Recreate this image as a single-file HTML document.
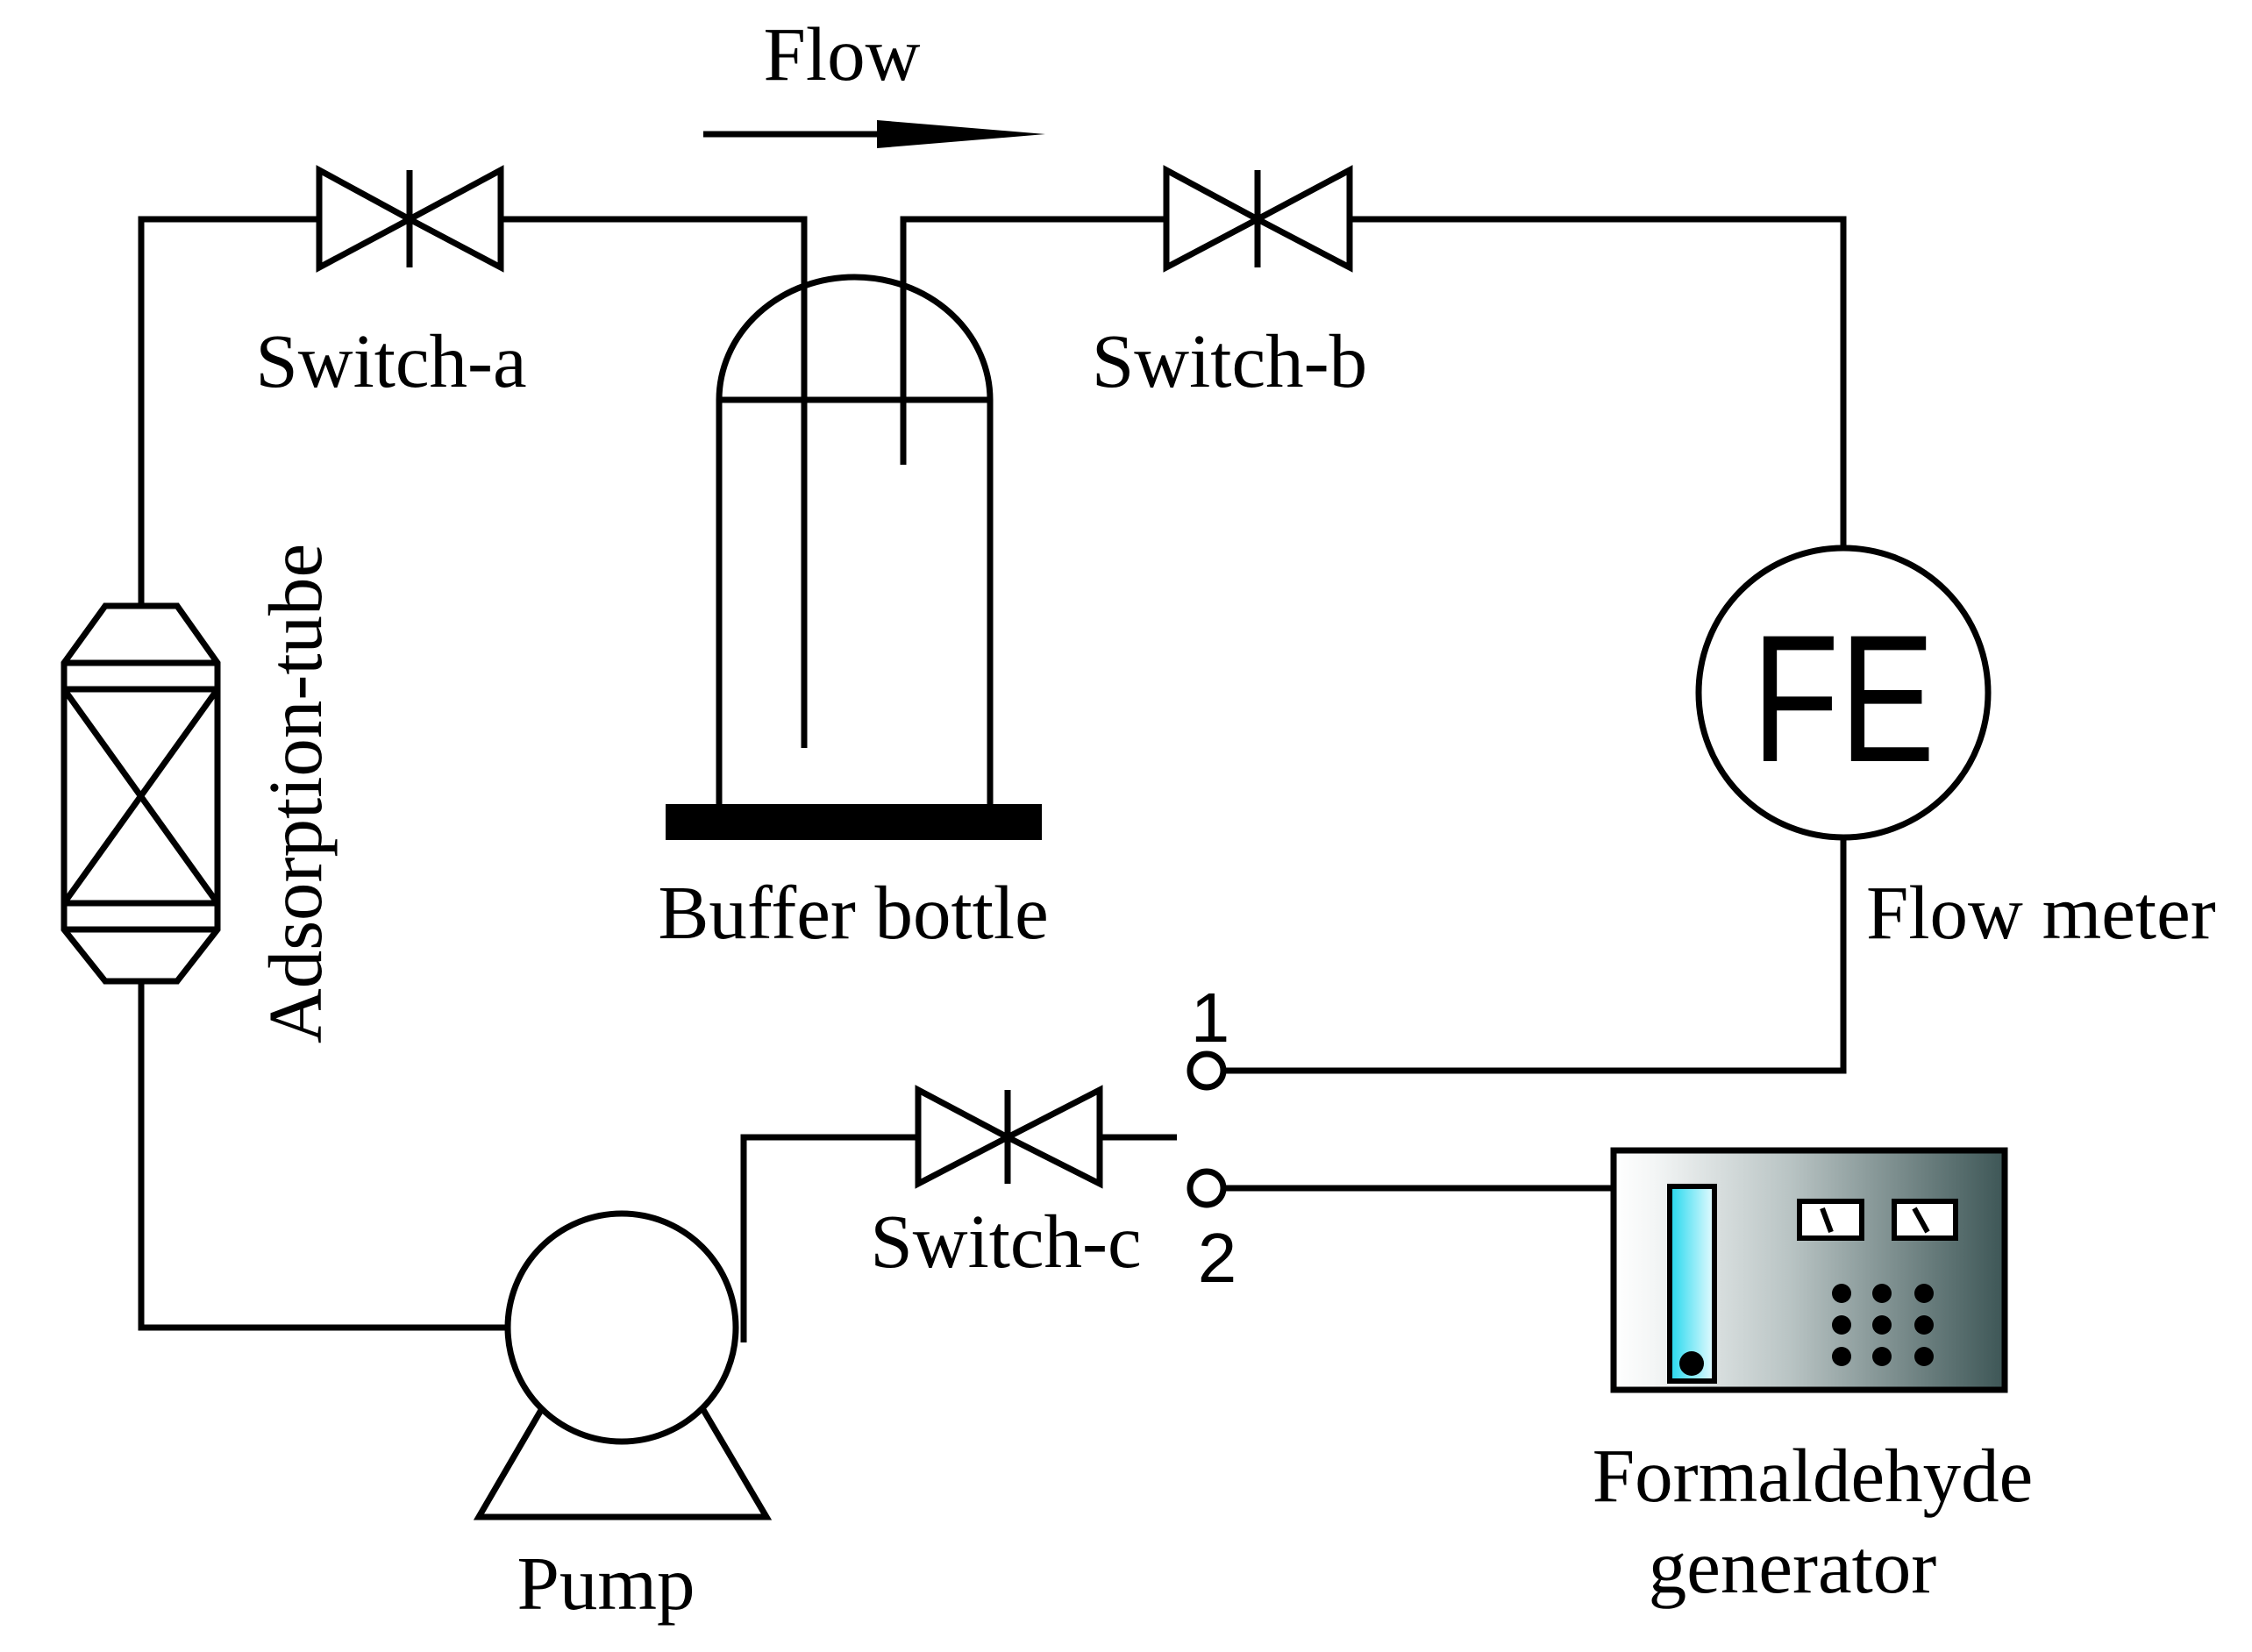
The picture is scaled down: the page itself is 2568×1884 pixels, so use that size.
<!DOCTYPE html>
<html><head><meta charset="utf-8"><style>html,body{margin:0;padding:0;background:#fff}svg{display:block}</style></head>
<body>
<svg width="2568" height="1884" viewBox="0 0 2568 1884" xmlns="http://www.w3.org/2000/svg">
<defs>
<linearGradient id="gen" x1="0" x2="1" y1="0" y2="0">
<stop offset="0" stop-color="#ffffff"/><stop offset="0.1" stop-color="#f4f6f6"/><stop offset="0.45" stop-color="#b9c4c4"/><stop offset="1" stop-color="#3d5656"/>
</linearGradient>
<linearGradient id="tube" x1="0" x2="1" y1="0" y2="0">
<stop offset="0" stop-color="#22d8ee"/><stop offset="1" stop-color="#e8fbff"/>
</linearGradient>
</defs>
<g stroke="#000" stroke-width="7" fill="none" stroke-linejoin="miter">
<polyline points="161,691 161,250 364,250"/>
<polyline points="571,250 917,250 917,853"/>
<polygon points="364,194 364,305 467,250"/>
<polygon points="571,194 571,305 467,250"/>
<line x1="467" y1="194" x2="467" y2="305"/>
<polyline points="1030,530 1030,250 1330,250"/>
<polygon points="1330,194 1330,305 1434,250"/>
<polygon points="1539,194 1539,305 1434,250"/>
<line x1="1434" y1="194" x2="1434" y2="305"/>
<polyline points="1539,250 2102,250 2102,625"/>
<path d="M820,456 A154.5 140 0 0 1 1129,456"/>
<line x1="820" y1="456" x2="1129" y2="456"/>
<line x1="820" y1="456" x2="820" y2="917"/>
<line x1="1129" y1="456" x2="1129" y2="917"/>
<circle cx="2102" cy="790" r="165"/>
<polyline points="2102,955 2102,1221 1396,1221"/>
<circle cx="1376" cy="1221" r="19"/>
<circle cx="1376" cy="1355" r="19"/>
<line x1="1396" y1="1355" x2="1840" y2="1355"/>
<polyline points="1047,1297 848,1297 848,1531"/>
<polygon points="1047,1243 1047,1350 1149,1297"/>
<polygon points="1254,1243 1254,1350 1149,1297"/>
<line x1="1149" y1="1243" x2="1149" y2="1350"/>
<line x1="1254" y1="1297" x2="1342" y2="1297"/>
<polygon points="546,1730 874,1730 709,1450"/>
<polyline points="161,1119 161,1514 578,1514"/>
<polygon points="120,691 202,691 248,756 248,1060 202,1119 120,1119 73,1060 73,756"/>
<line x1="73" y1="756" x2="248" y2="756"/>
<line x1="73" y1="786" x2="248" y2="786"/>
<line x1="73" y1="1030" x2="248" y2="1030"/>
<line x1="73" y1="1060" x2="248" y2="1060"/>
<line x1="73" y1="786" x2="248" y2="1030"/>
<line x1="248" y1="786" x2="73" y2="1030"/>
</g>
<circle cx="709" cy="1514" r="130" fill="#fff" stroke="#000" stroke-width="7"/>
<rect x="759" y="917" width="429" height="41" fill="#000"/>
<line x1="802" y1="153" x2="1010" y2="153" stroke="#000" stroke-width="7"/>
<polygon points="1000,137 1192,153 1000,169" fill="#000"/>
<rect x="1840" y="1312" width="446" height="273" fill="url(#gen)" stroke="#000" stroke-width="7"/>
<rect x="1904" y="1353" width="51" height="222" fill="url(#tube)" stroke="#000" stroke-width="6"/>
<circle cx="1929" cy="1555" r="14" fill="#000"/>
<rect x="2052" y="1370" width="71" height="42" fill="#fff" stroke="#000" stroke-width="6"/>
<rect x="2160" y="1370" width="70" height="42" fill="#fff" stroke="#000" stroke-width="6"/>
<line x1="2078" y1="1378" x2="2088" y2="1405" stroke="#000" stroke-width="6"/>
<line x1="2183" y1="1378" x2="2198" y2="1405" stroke="#000" stroke-width="6"/>
<g fill="#000">
<circle cx="2100" cy="1475" r="11"/><circle cx="2146" cy="1475" r="11"/><circle cx="2194" cy="1475" r="11"/>
<circle cx="2100" cy="1511" r="11"/><circle cx="2146" cy="1511" r="11"/><circle cx="2194" cy="1511" r="11"/>
<circle cx="2100" cy="1547" r="11"/><circle cx="2146" cy="1547" r="11"/><circle cx="2194" cy="1547" r="11"/>
</g>
<text x="2102" y="868" font-family="Liberation Sans, sans-serif" font-size="207" text-anchor="middle" textLength="209" lengthAdjust="spacingAndGlyphs">FE</text>
<g font-family="Liberation Serif, serif" font-size="87" fill="#000">
<text x="960" y="91" text-anchor="middle">Flow</text>
<text x="446" y="441" text-anchor="middle">Switch-a</text>
<text x="1402" y="441" text-anchor="middle">Switch-b</text>
<text x="973" y="1070" text-anchor="middle">Buffer bottle</text>
<text x="2128" y="1070">Flow meter</text>
<text x="1147" y="1445" text-anchor="middle">Switch-c</text>
<text x="691" y="1835" text-anchor="middle">Pump</text>
<text x="2067" y="1712" text-anchor="middle">Formaldehyde</text>
<text x="2044" y="1816" text-anchor="middle">generator</text>
<text transform="translate(366,905) rotate(-90)" text-anchor="middle">Adsorption-tube</text>
</g>
<g font-family="Liberation Sans, sans-serif" font-size="80" fill="#000">
<text x="1380" y="1188" text-anchor="middle">1</text>
<text x="1388" y="1462" text-anchor="middle">2</text>
</g>
</svg>
</body></html>
